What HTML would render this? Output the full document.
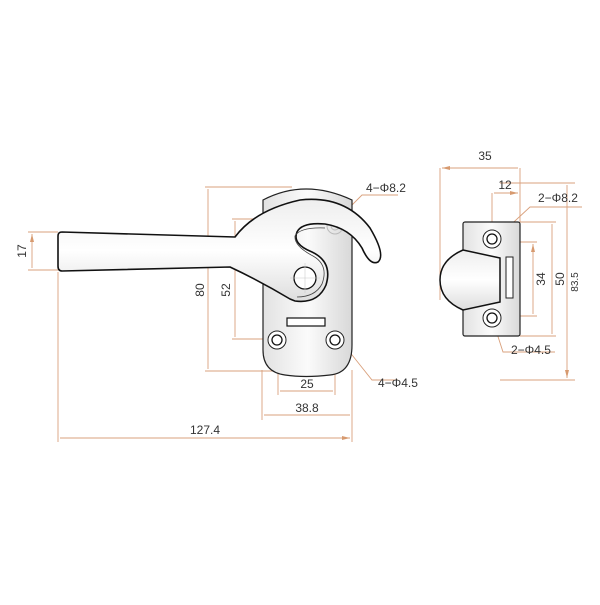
<!DOCTYPE html>
<html><head><style>
body{margin:0;background:#fff;width:600px;height:600px;overflow:hidden}
text{font-family:"Liberation Sans",sans-serif;font-size:12px;fill:#333}
</style></head><body>
<svg width="600" height="600" viewBox="0 0 600 600">
<defs>
<linearGradient id="g" x1="0" y1="0" x2="0" y2="1"><stop offset="0" stop-color="#eeeeee"/><stop offset=".5" stop-color="#ffffff"/><stop offset="1" stop-color="#dddddd"/></linearGradient>
<linearGradient id="g2" x1="0" y1="0" x2="1" y2="0"><stop offset="0" stop-color="#e2e2e2"/><stop offset=".5" stop-color="#fbfbfb"/><stop offset="1" stop-color="#d8d8d8"/></linearGradient>
<marker id="a" markerWidth="8" markerHeight="6" refX="8" refY="3" orient="auto-start-reverse" markerUnits="userSpaceOnUse"><path d="M0,1 L8,3 L0,5 Z" fill="#d79a6f"/></marker>
</defs>
<g stroke="#d9a07c" stroke-width="0.9" fill="none">
<path d="M28,232H58M28,270H58M205,187H292M205,371H300M232,219H278M232,339H268M278,345V395M335,345V395M262,370V420M352,370V442M58,272V442"/>
<path d="M32,234V268M208,189V369M235,221V337M280,391H333M264,415H350M60,438H350" marker-start="url(#a)" marker-end="url(#a)"/>
<path d="M328,225L345,212L362,195H398M337,336L360,365L372,380H398"/>
<path d="M440,168V300M520,168V222M492,193V232"/>
<path d="M442,168H518M494,193H518" marker-start="url(#a)" marker-end="url(#a)"/>
<path d="M520,222H556M498,242H537M498,316H537M520,336H556M500,183H575M500,380H575"/>
<path d="M533,244V314M552,224V334M567,185V378" marker-start="url(#a)" marker-end="url(#a)"/>
<path d="M480,256L503,232L530,207H582M492,318L503,352H555"/>
</g>
<path d="M263,200Q305,178 352,200V345Q352,373 330,375Q305,378 285,375Q263,372 263,350Z" fill="url(#g2)" stroke="#222" stroke-width="1.2"/>
<circle cx="278" cy="226" r="8" fill="none" stroke="#bbb"/><circle cx="278" cy="226" r="4" fill="none" stroke="#bbb"/>
<circle cx="335" cy="226" r="8" fill="none" stroke="#bbb"/><circle cx="335" cy="226" r="4" fill="none" stroke="#bbb"/>
<path d="M58,236Q58,232 62,232L235,237Q255,210 300,200Q345,195 370,228Q386,255 378,262Q370,266 362,248Q350,228 325,224Q302,222 297,232Q292,244 312,252Q333,262 326,285Q318,304 295,301L290,299Q260,281 230,267L62,271Q58,271 58,266Z" fill="url(#g)" stroke="#111" stroke-width="1.6"/>
<path d="M325,228Q300,227 295,236Q294,246 313,256Q329,265 322,284Q315,297 297,297" fill="none" stroke="#444" stroke-width="0.8"/>
<circle cx="305" cy="278" r="11" fill="#fff" stroke="#111" stroke-width="1.3"/>
<path d="M290,278H320M305,263V293" stroke="#ccc" stroke-width="0.6"/>
<rect x="287" y="318" width="38" height="8" fill="#fff" stroke="#111" stroke-width="1.2"/>
<circle cx="277" cy="340" r="9" fill="#fff" stroke="#222"/><circle cx="277" cy="340" r="5" fill="#fff" stroke="#111" stroke-width="1.3"/>
<circle cx="335" cy="340" r="9" fill="#fff" stroke="#222"/><circle cx="335" cy="340" r="5" fill="#fff" stroke="#111" stroke-width="1.3"/>
<rect x="463" y="222" width="57" height="114" rx="2" fill="url(#g2)" stroke="#222" stroke-width="1.2"/>
<path d="M463,250L500,258V302L463,310Q440,300 440,280Q440,260 463,250Z" fill="url(#g)" stroke="#111" stroke-width="1.5"/>
<rect x="506" y="257" width="7" height="41" fill="#fff" stroke="#222"/>
<circle cx="492" cy="239" r="9" fill="#fff" stroke="#222"/><circle cx="492" cy="239" r="5" fill="#fff" stroke="#111" stroke-width="1.3"/>
<circle cx="492" cy="318" r="9" fill="#fff" stroke="#222"/><circle cx="492" cy="318" r="5" fill="#fff" stroke="#111" stroke-width="1.3"/>
<text x="26" y="251" text-anchor="middle" transform="rotate(-90 26 251)">17</text>
<text x="204" y="290" text-anchor="middle" transform="rotate(-90 204 290)">80</text>
<text x="230" y="290" text-anchor="middle" transform="rotate(-90 230 290)">52</text>
<text x="307" y="388" text-anchor="middle">25</text>
<text x="307" y="412" text-anchor="middle">38.8</text>
<text x="205" y="434" text-anchor="middle">127.4</text>
<text x="366" y="192">4−Φ8.2</text>
<text x="378" y="387">4−Φ4.5</text>
<text x="485" y="160" text-anchor="middle">35</text>
<text x="505" y="189" text-anchor="middle">12</text>
<text x="538" y="202">2−Φ8.2</text>
<text x="511" y="354">2−Φ4.5</text>
<text x="545" y="279" text-anchor="middle" transform="rotate(-90 545 279)">34</text>
<text x="564" y="279" text-anchor="middle" transform="rotate(-90 564 279)">50</text>
<text x="578" y="282" text-anchor="middle" style="font-size:10px" transform="rotate(-90 578 282)">83.5</text>
</svg>
</body></html>
